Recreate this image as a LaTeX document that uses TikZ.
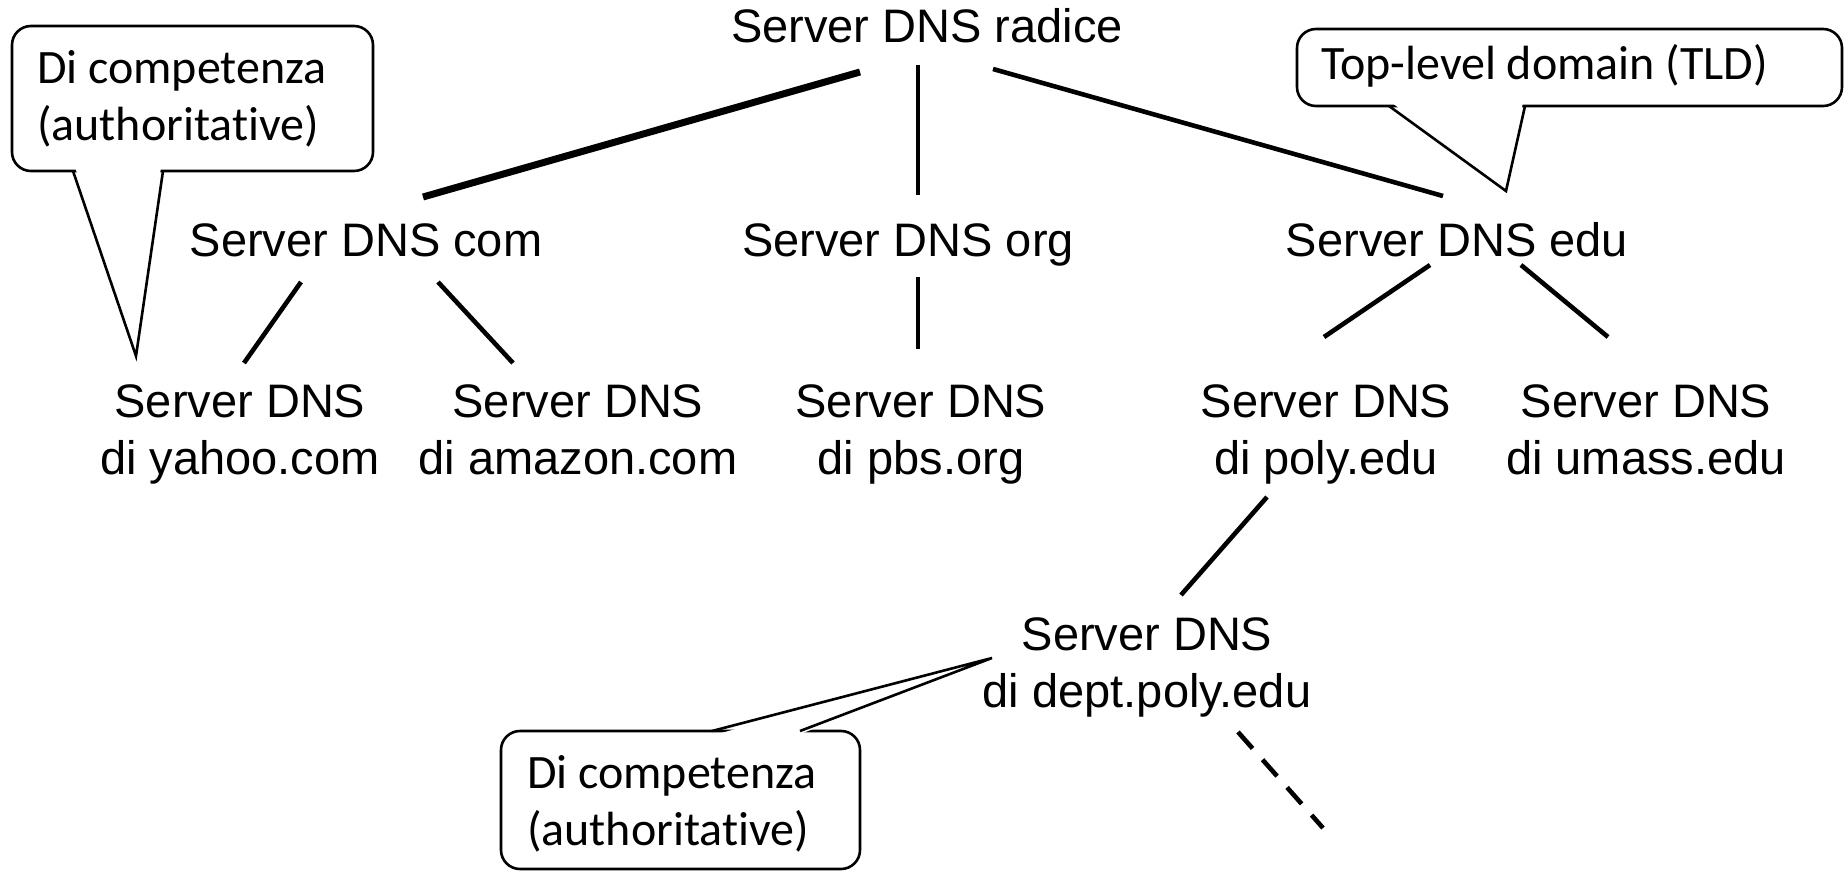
\documentclass[tikz,border=0pt]{standalone}
\usepackage{fontspec}
\setmainfont{Liberation Sans}
\newfontfamily\callfont[Ligatures={NoCommon}]{Carlito}
\usetikzlibrary{calc}
\newcommand\twoln[2]{\begin{tabular}[t]{@{}c@{}}#1\\#2\end{tabular}}
\newcommand\twolnl[2]{\begin{tabular}[t]{@{}l@{}}#1\\#2\end{tabular}}
\tikzset{
  lbl/.style={inner sep=0pt, outer sep=0pt, font=\fontsize{47}{57}\selectfont, anchor=base},
  clbl/.style={inner sep=0pt, outer sep=0pt, font=\callfont\fontsize{48}{57}\selectfont, anchor=base west},
  link/.style={line width=4.6pt},
  thicklink/.style={line width=7pt},
  dashlink/.style={line width=4.6pt, dash pattern=on 22pt off 15pt},
  callbox/.style={line width=2.6pt, rounded corners=19pt},
  callptr/.style={line width=2.6pt, line join=miter},
}
\begin{document}
\begin{tikzpicture}[x=1pt, y=-1pt]
\useasboundingbox (0,0) rectangle (1845,872);

% tree nodes
\node[lbl] (root) at (927,43) {Server DNS radice};
\node[lbl] (com) at (366,256) {Server DNS com};
\node[lbl] (org) at (908,256) {Server DNS org};
\node[lbl] (edu) at (1457,256) {Server DNS edu};
\node[lbl] (yahoo) at (240,417) {\twoln{Server DNS}{di yahoo.com}};
\node[lbl] (amazon) at (578,417) {\twoln{Server DNS}{di amazon.com}};
\node[lbl] (pbs) at (921,417) {\twoln{Server DNS}{di pbs.org}};
\node[lbl] (poly) at (1326,417) {\twoln{Server DNS}{di poly.edu}};
\node[lbl] (umass) at (1646,417) {\twoln{Server DNS}{di umass.edu}};
\node[lbl] (dept) at (1147,650) {\twoln{Server DNS}{di dept.poly.edu}};
\coordinate (more) at (1323,828);

% connectors
\draw[thicklink] ($(root.base)+(-67,29)$) -- ($(com.base)+(57,-59)$);
\draw[link] ($(root.base)+(-9,22)$) -- ($(org.base)+(10,-61)$);
\draw[link] ($(root.base)+(66,26)$) -- ($(edu.base)+(-14,-60)$);
\draw[link] ($(com.base)+(-65,26)$) -- ($(yahoo.base)+(4,-54)$);
\draw[link] ($(com.base)+(72,26)$) -- ($(amazon.base)+(-65,-54)$);
\draw[link] ($(org.base)+(10,21)$) -- ($(pbs.base)+(-3,-68)$);
\draw[link] ($(edu.base)+(-27,9)$) -- ($(poly.base)+(-2,-80)$);
\draw[link] ($(edu.base)+(64,9)$) -- ($(umass.base)+(-38,-80)$);
\draw[link] ($(poly.base)+(-59,80)$) -- ($(dept.base)+(34,-55)$);
\draw[dashlink] ($(dept.base)+(91,82)$) -- (more);

% callout: top left
\draw[callbox] (12,26) rectangle (373,171);
\fill[white] (75,167) -- (161,167) -- (136,356) -- cycle;
\draw[callptr] (73,171) -- (136,356) -- (163,171);
\node[clbl] (auth1) at (37,84) {\twolnl{Di competenza}{(authoritative)}};

% callout: top right
\draw[callbox] (1297,29) rectangle (1842,106);
\fill[white] (1391,102) -- (1523,102) -- (1506,191) -- cycle;
\draw[callptr] (1389,106) -- (1506,191) -- (1525,106);
\node[clbl] (tld) at (1321,80) {Top-level domain (TLD)};

% callout: bottom
\draw[callbox] (501,731) rectangle (860,869);
\fill[white] (714,735) -- (798,735) -- (992,658) -- cycle;
\draw[callptr] (712,731) -- (992,658) -- (800,731);
\node[clbl] (auth2) at (527,788) {\twolnl{Di competenza}{(authoritative)}};
\end{tikzpicture}
\end{document}
